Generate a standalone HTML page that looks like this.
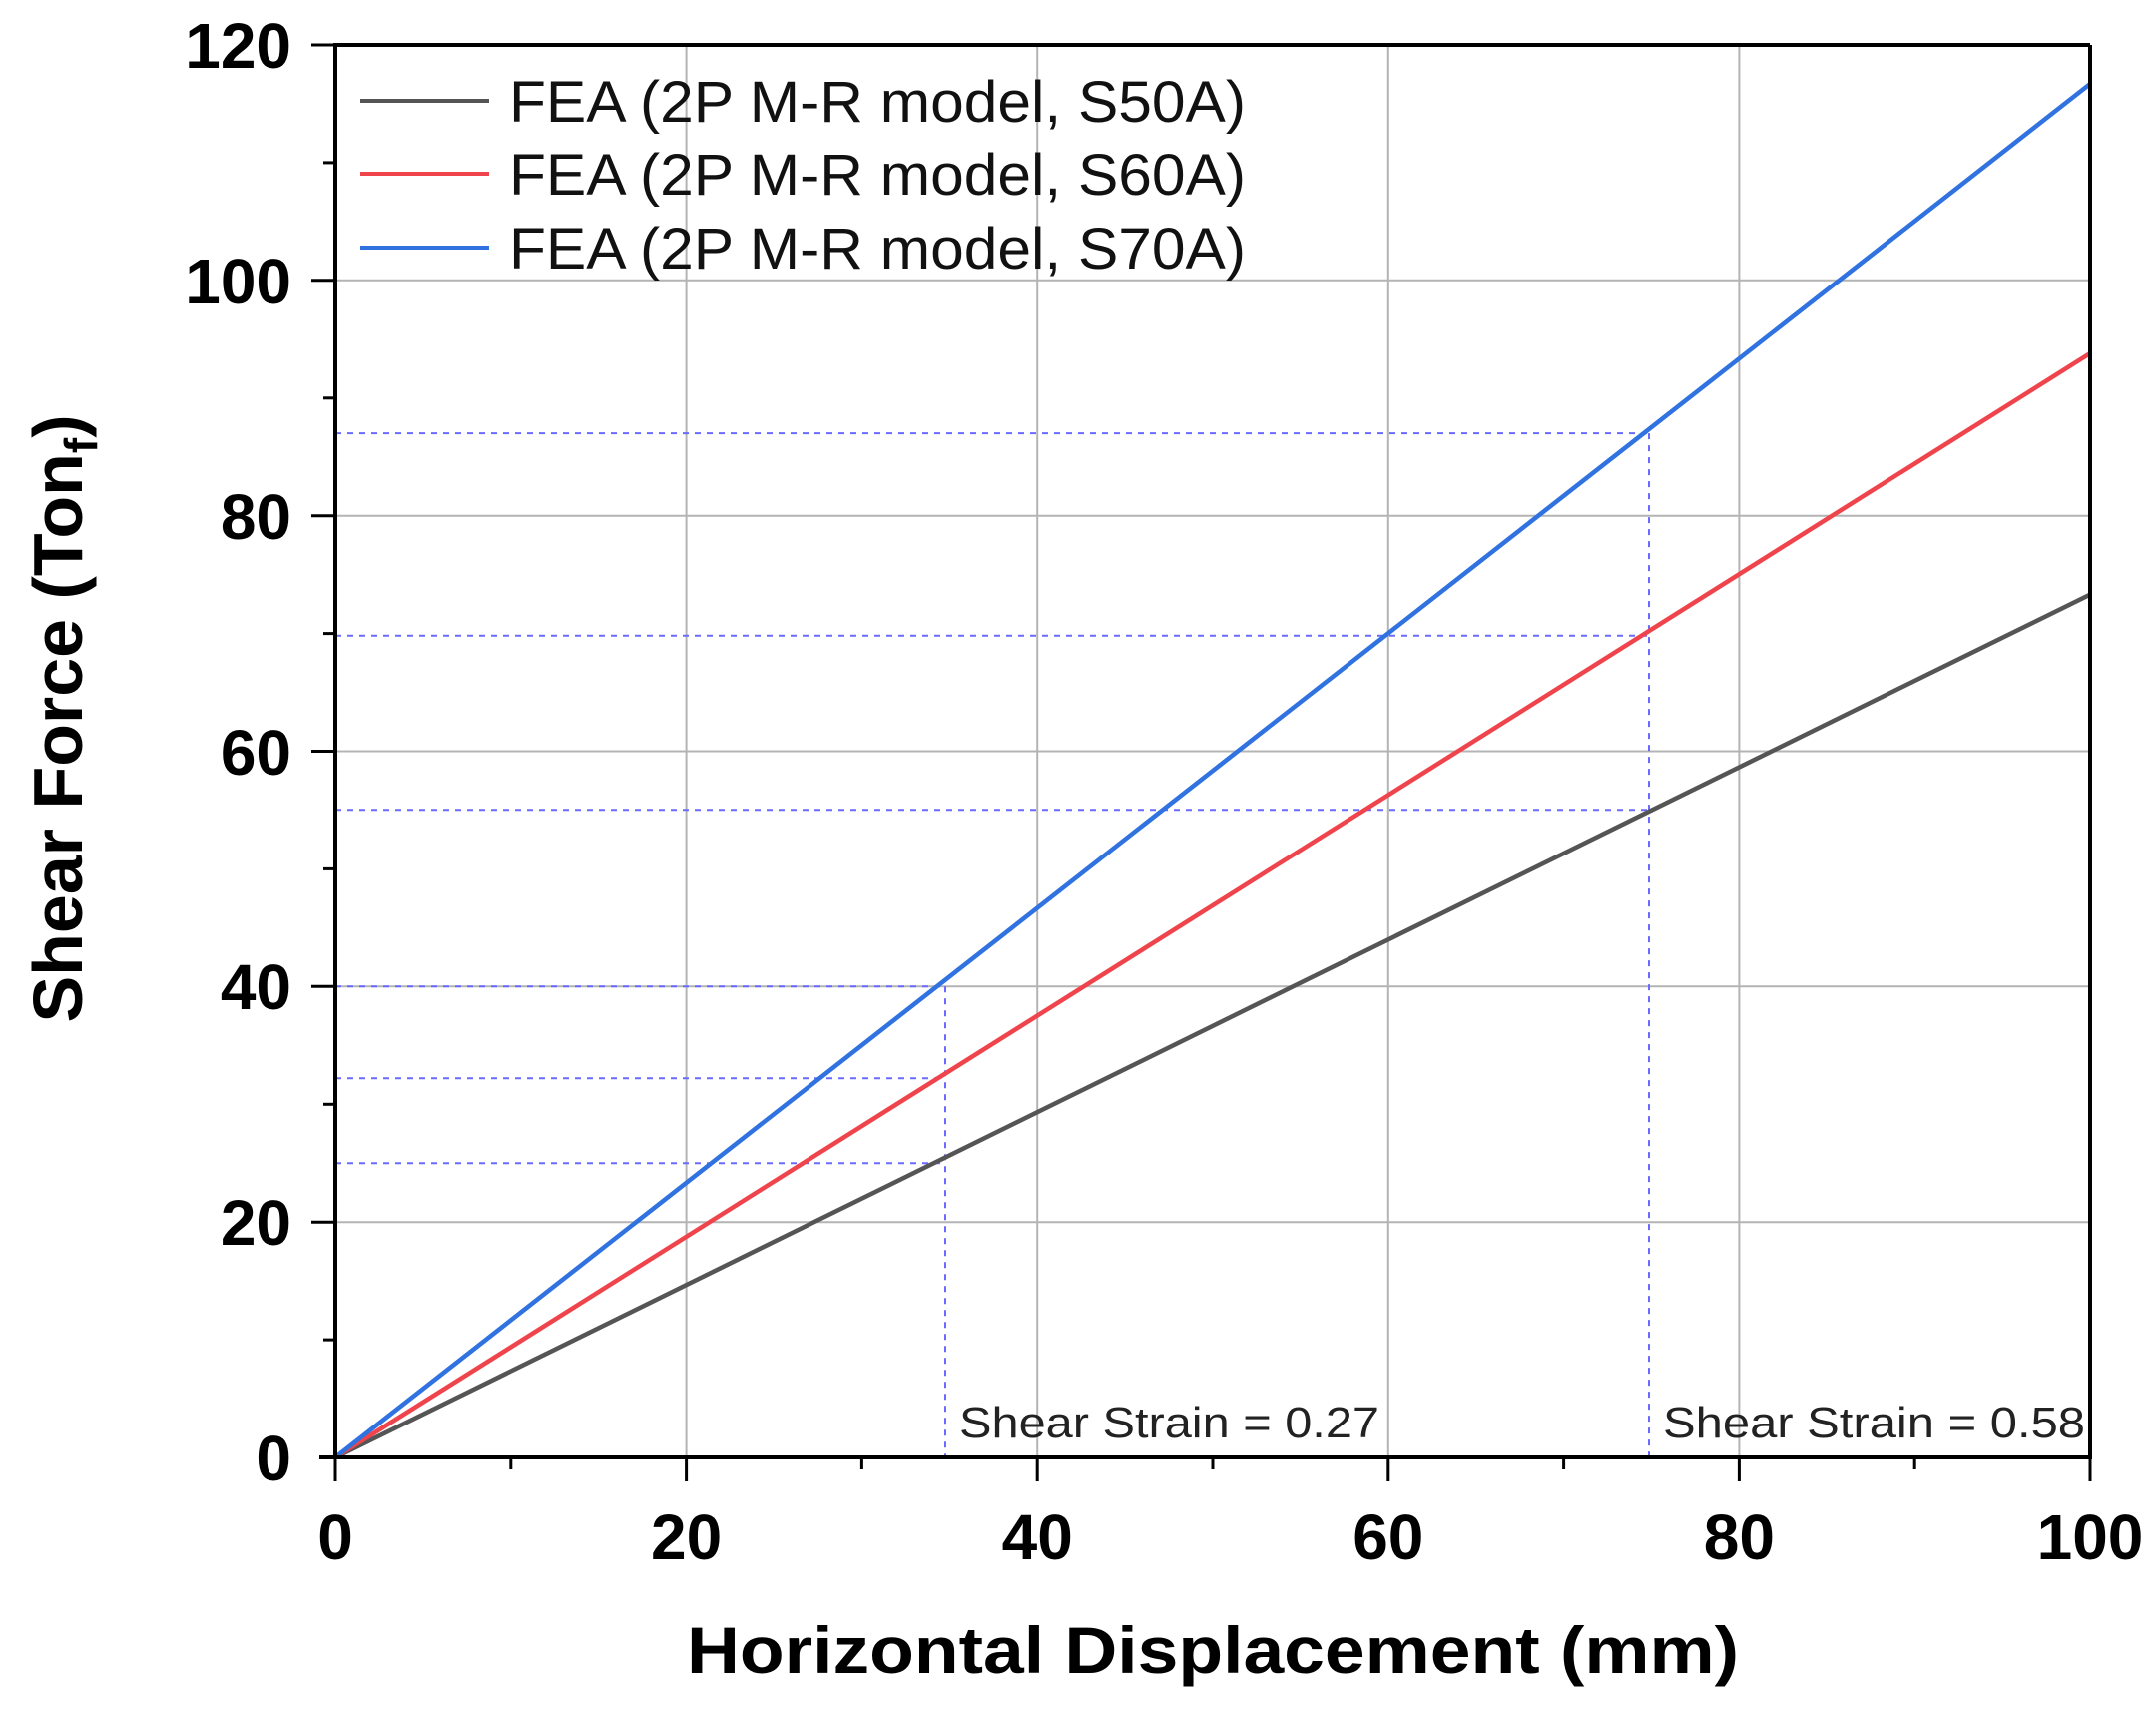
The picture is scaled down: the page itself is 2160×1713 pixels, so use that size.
<!DOCTYPE html>
<html><head><meta charset="utf-8"><style>body{margin:0;background:#fff}svg{display:block}</style></head><body>
<svg width="2160" height="1713" viewBox="0 0 2160 1713" xmlns="http://www.w3.org/2000/svg" font-family="Liberation Sans, Arial, sans-serif">
<g stroke="#b4b4b4" stroke-width="2">
<line x1="687.6" y1="45" x2="687.6" y2="1460"/><line x1="1039.2" y1="45" x2="1039.2" y2="1460"/><line x1="1390.8" y1="45" x2="1390.8" y2="1460"/><line x1="1742.4" y1="45" x2="1742.4" y2="1460"/>
<line x1="336" y1="1224.2" x2="2094" y2="1224.2"/><line x1="336" y1="988.3" x2="2094" y2="988.3"/><line x1="336" y1="752.5" x2="2094" y2="752.5"/><line x1="336" y1="516.7" x2="2094" y2="516.7"/><line x1="336" y1="280.8" x2="2094" y2="280.8"/>
</g>
<g stroke="#6a6aff" stroke-width="2" stroke-dasharray="6,6" fill="none">
<line x1="336" y1="434.1" x2="1654.5" y2="434.1"/>
<line x1="336" y1="636.8" x2="1654.5" y2="636.8"/>
<line x1="336" y1="811.3" x2="1654.5" y2="811.3"/>
<line x1="336" y1="988.3" x2="947" y2="988.3"/>
<line x1="336" y1="1080.3" x2="947" y2="1080.3"/>
<line x1="336" y1="1165.3" x2="947" y2="1165.3"/>
<line x1="947" y1="988.3" x2="947" y2="1460"/>
<line x1="1652" y1="434.1" x2="1652" y2="1460"/>
</g>
<g stroke-width="4.5" fill="none">
<line x1="336" y1="1460" x2="2094" y2="595.6" stroke="#555"/>
<line x1="336" y1="1460" x2="2094" y2="354" stroke="#f0444c"/>
<line x1="336" y1="1460" x2="2094" y2="84" stroke="#2f72e0"/>
</g>
<g stroke="#000" stroke-width="4" fill="none">
<line x1="336" y1="45" x2="2094" y2="45"/><line x1="2094" y1="45" x2="2094" y2="1460"/>
<line x1="336" y1="43" x2="336" y2="1462"/><line x1="320" y1="1460" x2="2096" y2="1460"/>
</g>
<g stroke="#000" stroke-width="3">
<line x1="336" y1="1460" x2="336" y2="1484"/><line x1="687.6" y1="1460" x2="687.6" y2="1484"/><line x1="1039.2" y1="1460" x2="1039.2" y2="1484"/><line x1="1390.8" y1="1460" x2="1390.8" y2="1484"/><line x1="1742.4" y1="1460" x2="1742.4" y2="1484"/><line x1="2094" y1="1460" x2="2094" y2="1484"/>
<line x1="511.8" y1="1460" x2="511.8" y2="1472"/><line x1="863.4" y1="1460" x2="863.4" y2="1472"/><line x1="1215" y1="1460" x2="1215" y2="1472"/><line x1="1566.6" y1="1460" x2="1566.6" y2="1472"/><line x1="1918.2" y1="1460" x2="1918.2" y2="1472"/>
<line x1="312" y1="45" x2="336" y2="45"/><line x1="312" y1="280.8" x2="336" y2="280.8"/><line x1="312" y1="516.7" x2="336" y2="516.7"/><line x1="312" y1="752.5" x2="336" y2="752.5"/><line x1="312" y1="988.3" x2="336" y2="988.3"/><line x1="312" y1="1224.2" x2="336" y2="1224.2"/>
<line x1="324" y1="162.9" x2="336" y2="162.9"/><line x1="324" y1="398.8" x2="336" y2="398.8"/><line x1="324" y1="634.6" x2="336" y2="634.6"/><line x1="324" y1="870.4" x2="336" y2="870.4"/><line x1="324" y1="1106.3" x2="336" y2="1106.3"/><line x1="324" y1="1342.1" x2="336" y2="1342.1"/>
</g>
<g font-size="64" font-weight="bold" text-anchor="middle">
<text x="336" y="1562">0</text><text x="687.6" y="1562">20</text><text x="1039.2" y="1562">40</text><text x="1390.8" y="1562">60</text><text x="1742.4" y="1562">80</text><text x="2094" y="1562">100</text>
</g>
<g font-size="64" font-weight="bold" text-anchor="end">
<text x="292" y="68">120</text><text x="292" y="304">100</text><text x="292" y="540">80</text><text x="292" y="776">60</text><text x="292" y="1011">40</text><text x="292" y="1247">20</text><text x="292" y="1483">0</text>
</g>
<text x="1215" y="1676" font-size="66" font-weight="bold" text-anchor="middle" textLength="1054" lengthAdjust="spacingAndGlyphs">Horizontal Displacement (mm)</text>
<text transform="translate(82,720) rotate(-90)" font-size="70" font-weight="bold" text-anchor="middle">Shear Force (Ton<tspan font-size="46" dy="15">f</tspan><tspan dy="-15">)</tspan></text>
<g stroke-width="4">
<line x1="361" y1="101" x2="490" y2="101" stroke="#555"/>
<line x1="361" y1="174" x2="490" y2="174" stroke="#f0444c"/>
<line x1="361" y1="248" x2="490" y2="248" stroke="#2f72e0"/>
</g>
<g font-size="58" fill="#111">
<text x="510" y="122" textLength="738" lengthAdjust="spacingAndGlyphs">FEA (2P M-R model, S50A)</text>
<text x="510" y="195" textLength="738" lengthAdjust="spacingAndGlyphs">FEA (2P M-R model, S60A)</text>
<text x="510" y="269" textLength="738" lengthAdjust="spacingAndGlyphs">FEA (2P M-R model, S70A)</text>
</g>
<g font-size="44" fill="#222">
<text x="961" y="1440" textLength="421" lengthAdjust="spacingAndGlyphs">Shear Strain = 0.27</text>
<text x="1666" y="1440" textLength="423" lengthAdjust="spacingAndGlyphs">Shear Strain = 0.58</text>
</g>
</svg>
</body></html>
